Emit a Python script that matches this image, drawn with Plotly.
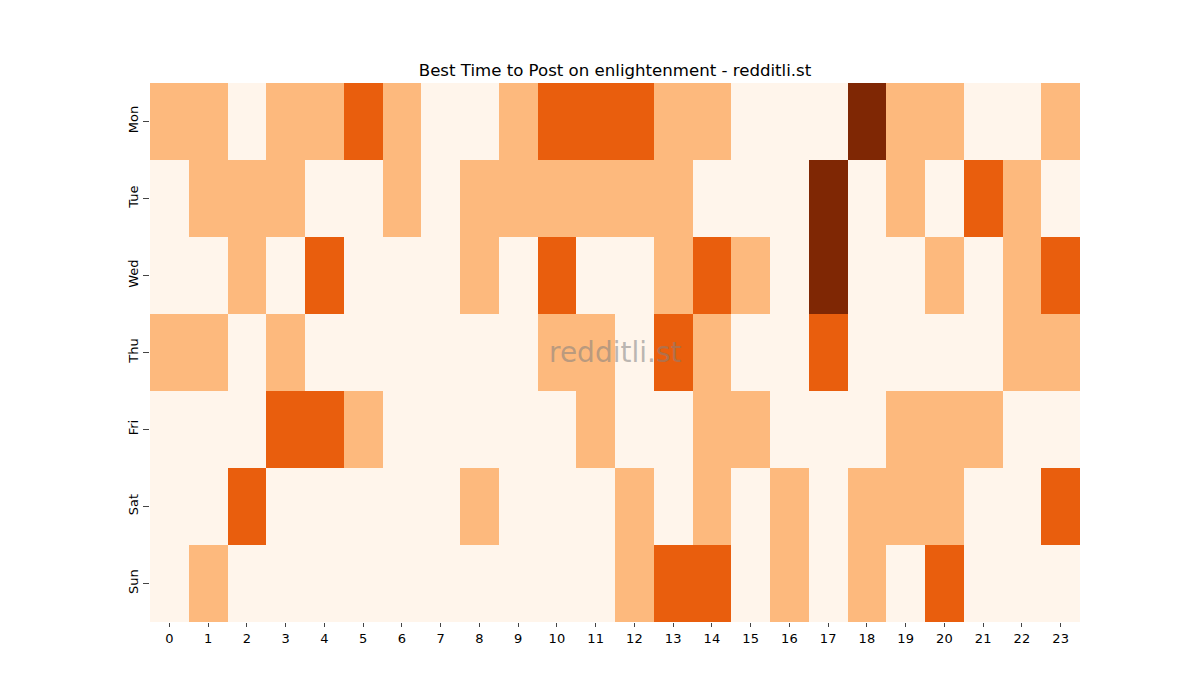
import plotly.graph_objects as go

days = ["Mon", "Tue", "Wed", "Thu", "Fri", "Sat", "Sun"]
hours = list(range(24))

# post activity level per hour, one list per day
mon = [1, 1, 0, 1, 1, 2, 1, 0, 0, 1, 2, 2, 2, 1, 1, 0, 0, 0, 3, 1, 1, 0, 0, 1]
tue = [0, 1, 1, 1, 0, 0, 1, 0, 1, 1, 1, 1, 1, 1, 0, 0, 0, 3, 0, 1, 0, 2, 1, 0]
wed = [0, 0, 1, 0, 2, 0, 0, 0, 1, 0, 2, 0, 0, 1, 2, 1, 0, 3, 0, 0, 1, 0, 1, 2]
thu = [1, 1, 0, 1, 0, 0, 0, 0, 0, 0, 1, 1, 0, 2, 1, 0, 0, 2, 0, 0, 0, 0, 1, 1]
fri = [0, 0, 0, 2, 2, 1, 0, 0, 0, 0, 0, 1, 0, 0, 1, 1, 0, 0, 0, 1, 1, 1, 0, 0]
sat = [0, 0, 2, 0, 0, 0, 0, 0, 1, 0, 0, 0, 1, 0, 1, 0, 1, 0, 1, 1, 1, 0, 0, 2]
sun = [0, 1, 0, 0, 0, 0, 0, 0, 0, 0, 0, 0, 1, 2, 2, 0, 1, 0, 1, 0, 2, 0, 0, 0]

z = [mon, tue, wed, thu, fri, sat, sun]

oranges = [
    [0.0, "#fff5eb"], [0.1667, "#fff5eb"],
    [0.1667, "#fdb97d"], [0.5, "#fdb97d"],
    [0.5, "#e95e0d"], [0.8333, "#e95e0d"],
    [0.8333, "#7f2704"], [1.0, "#7f2704"],
]

fig = go.Figure(go.Heatmap(
    z=z, x=hours, y=days,
    colorscale=oranges, zmin=0, zmax=3,
    showscale=False, xgap=0, ygap=0,
))

fig.update_layout(
    width=1200, height=700,
    margin=dict(l=142, r=128, t=75, b=86),
    paper_bgcolor="white", plot_bgcolor="white",
    font=dict(family="DejaVu Sans", size=13, color="black"),
    title=dict(text="Best Time to Post on enlightenment - redditli.st",
               x=(615 - 8) / 1200, xanchor="center", y=1 - 62 / 700, yanchor="middle",
               font=dict(size=16.6)),
    annotations=[dict(text="redditli.st", x=0.5, y=0.5, xref="paper", yref="paper",
                      showarrow=False, font=dict(size=28, color="rgba(128,128,128,0.55)"))],
)
fig.update_xaxes(tickmode="array", tickvals=hours, ticks="outside", ticklen=4,
                 showgrid=False, zeroline=False, showline=False)
fig.update_yaxes(autorange="reversed", tickangle=-90, ticks="outside", ticklen=6,
                 showgrid=False, zeroline=False, showline=False)

fig.write_html("out.html")
